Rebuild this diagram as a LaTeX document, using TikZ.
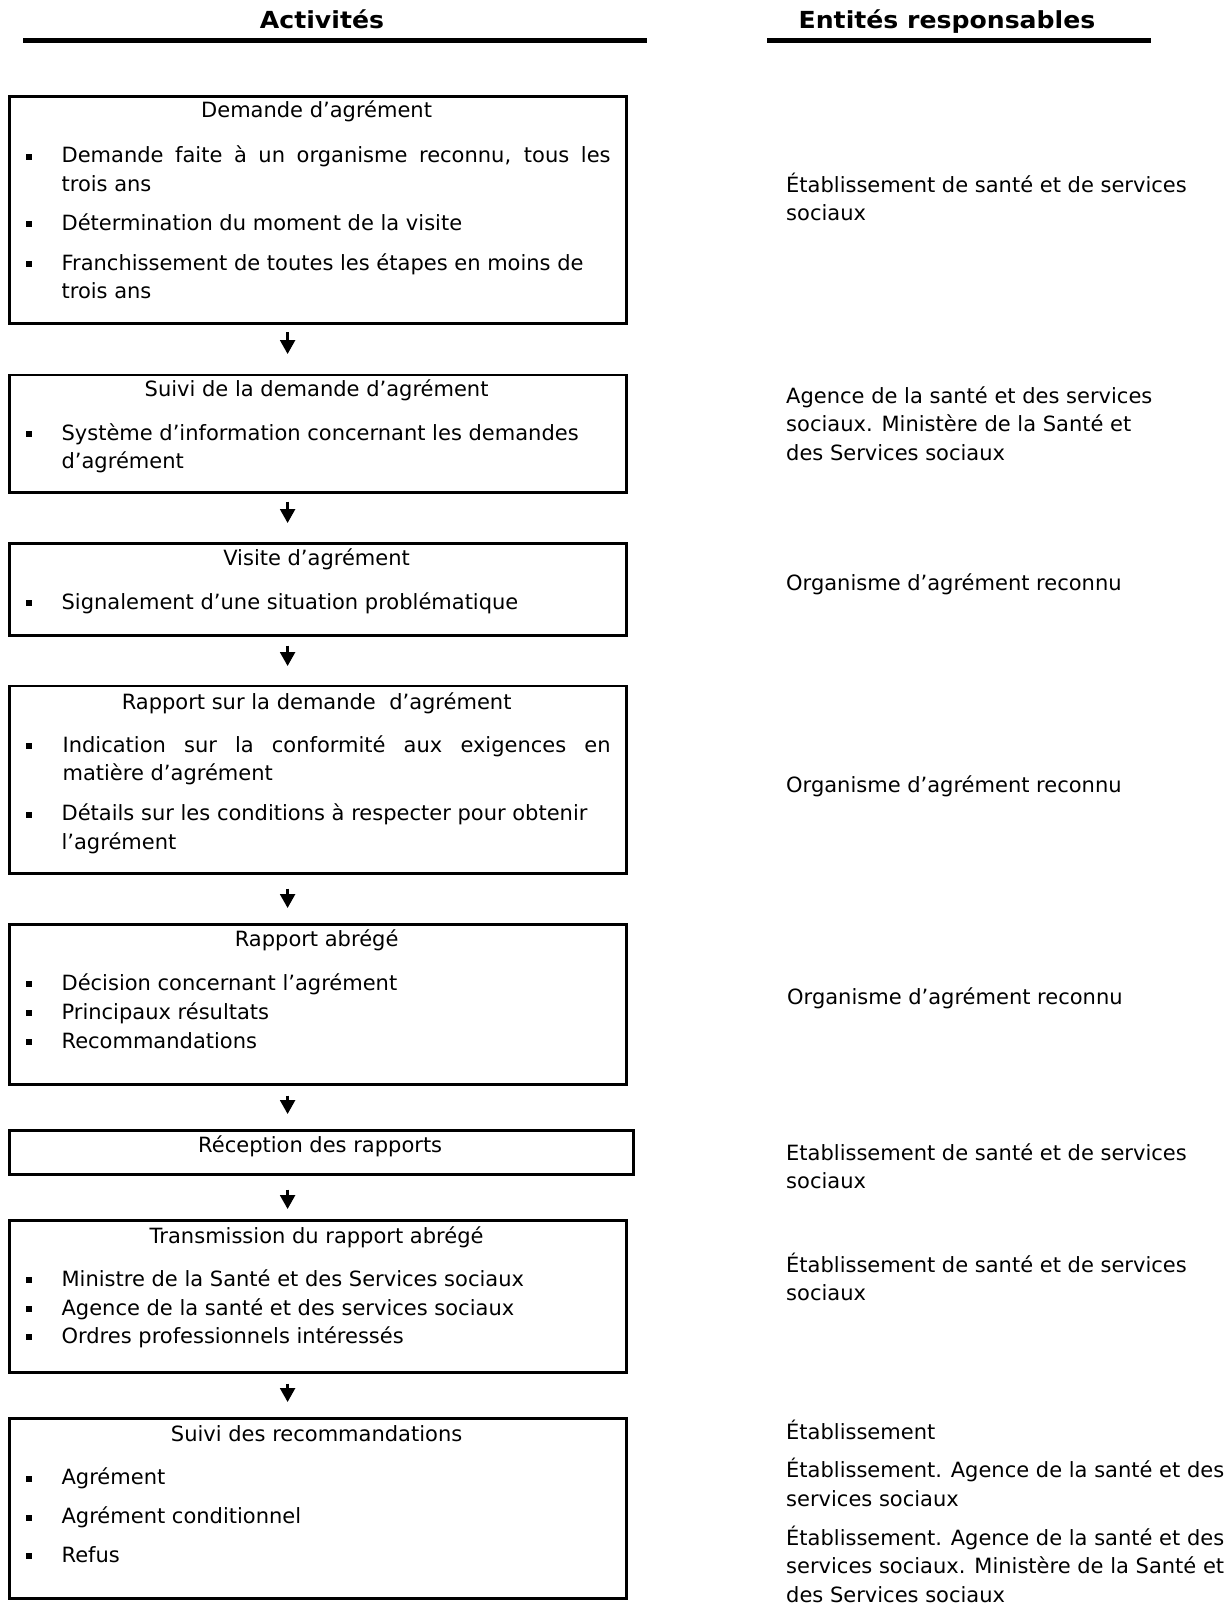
\documentclass[tikz,border=0pt]{standalone}
\usepackage{fontspec}
\setmainfont{DejaVu Sans}
\newfontfamily\hdfont[FakeStretch=1.07]{DejaVu Sans}
\usetikzlibrary{calc,arrows.meta}
\newcommand\bsq[1]{\fill (26,#1-9) rectangle (32,#1-3);}
\begin{document}
\begin{tikzpicture}[x=1pt,y=-1pt,
  box/.style={draw, line width=2.5pt, inner sep=0pt, anchor=north west},
  bodytxt/.style={anchor=base west, inner sep=0pt, align=left, font=\fontsize{21}{28.7}\selectfont},
  ttl/.style={anchor=base, inner sep=0pt, font=\fontsize{21}{28.7}\selectfont},
  hd/.style={anchor=base, inner sep=0pt, font=\hdfont\bfseries\fontsize{23.5}{28}\selectfont},
  arr/.style={line width=2.4pt, -{Triangle[width=15pt,length=14pt]}}]
\useasboundingbox (0,0) rectangle (1228,1604);

% headers
\node[hd] (h1) at (322,28.5) {Activités};
\node[hd] (h2) at (947,28.5) {Entités responsables};
\fill (22.5,37.5) rectangle (647,42.5);
\fill (767,37.5) rectangle (1151,42.5);

% boxes
\node[box, minimum width=616.8pt, minimum height=227pt] (b1) at (8.2,95) {};
\node[box, minimum width=616.8pt, minimum height=117.5pt] (b2) at (8.2,373.5) {};
\node[box, minimum width=616.8pt, minimum height=92pt] (b3) at (8.2,542) {};
\node[box, minimum width=616.8pt, minimum height=187.4pt] (b4) at (8.2,684.6) {};
\node[box, minimum width=616.8pt, minimum height=160pt] (b5) at (8.2,923) {};
\node[box, minimum width=624pt, minimum height=44pt] (b6) at (8.2,1129) {};
\node[box, minimum width=616.8pt, minimum height=152pt] (b7) at (8.2,1219) {};
\node[box, minimum width=616.8pt, minimum height=180pt] (b8) at (8.2,1417) {};

% box 1
\node[ttl] (t1) at (316.6,117.5) {Demande d’agrément};
\bsq{162.5}\node[bodytxt] (t1a) at (61.4,191.2) {\makebox[549pt][s]{Demande faite à un organisme reconnu, tous les}\\trois ans};
\bsq{230}\node[bodytxt] (t1b) at (61.4,230) {Détermination du moment de la visite};
\bsq{270}\node[bodytxt] (t1c) at (61.4,298.7) {Franchissement de toutes les étapes en moins de\\trois ans};

% box 2
\node[ttl] (t2) at (316.6,396) {Suivi de la demande d’agrément};
\bsq{440}\node[bodytxt] (t2a) at (61.4,468.7) {Système d’information concernant les demandes\\d’agrément};

% box 3
\node[ttl] (t3) at (316.6,565) {Visite d’agrément};
\bsq{609}\node[bodytxt] (t3a) at (61.4,609) {Signalement d’une situation problématique};

% box 4
\node[ttl] (t4) at (316.6,709) {Rapport sur la demande\ \ d’agrément};
\bsq{752}\node[bodytxt] (t4a) at (62.4,780.7) {\makebox[548pt][s]{Indication sur la conformité aux exigences en}\\matière d’agrément};
\bsq{820.5}\node[bodytxt] (t4b) at (61.4,849.2) {Détails sur les conditions à respecter pour obtenir\\l’agrément};

% box 5
\node[ttl] (t5) at (316.6,946) {Rapport abrégé};
\bsq{990}\node[bodytxt] (t5a) at (61.4,990) {Décision concernant l’agrément};
\bsq{1019}\node[bodytxt] (t5b) at (61.4,1019) {Principaux résultats};
\bsq{1048}\node[bodytxt] (t5c) at (61.4,1048) {Recommandations};

% box 6
\node[ttl] (t6) at (320.2,1152) {Réception des rapports};

% box 7
\node[ttl] (t7) at (316.6,1243) {Transmission du rapport abrégé};
\bsq{1286}\node[bodytxt] (t7a) at (61.4,1286) {Ministre de la Santé et des Services sociaux};
\bsq{1315}\node[bodytxt] (t7b) at (61.4,1315) {Agence de la santé et des services sociaux};
\bsq{1343}\node[bodytxt] (t7c) at (61.4,1343) {Ordres professionnels intéressés};

% box 8
\node[ttl] (t8) at (316.6,1441) {Suivi des recommandations};
\bsq{1484.5}\node[bodytxt] (t8a) at (61.4,1484.5) {Agrément};
\bsq{1523.5}\node[bodytxt] (t8b) at (61.4,1523.5) {Agrément conditionnel};
\bsq{1562}\node[bodytxt] (t8c) at (61.4,1562) {Refus};

% arrows
\draw[arr] ($(b1.south west)+(279.4,7.5)$) -- ($(b2.north west)+(279.4,-19.5)$);
\draw[arr] ($(b2.south west)+(279.4,8)$) -- ($(b3.north west)+(279.4,-19)$);
\draw[arr] ($(b3.south west)+(279.4,9)$) -- ($(b4.north west)+(279.4,-18.6)$);
\draw[arr] ($(b4.south west)+(279.4,14)$) -- ($(b5.north west)+(279.4,-15)$);
\draw[arr] ($(b5.south west)+(279.4,10)$) -- ($(b6.north west)+(279.4,-15)$);
\draw[arr] ($(b6.south west)+(279.4,14)$) -- ($(b7.north west)+(279.4,-10)$);
\draw[arr] ($(b7.south west)+(279.4,10)$) -- ($(b8.north west)+(279.4,-15)$);

% right column
\node[bodytxt] (r1) at (786,220.7) {Établissement de santé et de services\\sociaux};
\node[bodytxt] (r2) at (786,460.4) {Agence de la santé et des services\\sociaux. Ministère de la Santé et\\des Services sociaux};
\node[bodytxt] (r3) at (786,590) {Organisme d’agrément reconnu};
\node[bodytxt] (r4) at (786,792) {Organisme d’agrément reconnu};
\node[bodytxt] (r5) at (787,1004) {Organisme d’agrément reconnu};
\node[bodytxt] (r6) at (786,1188.7) {Etablissement de santé et de services\\sociaux};
\node[bodytxt] (r7) at (786,1300.7) {Établissement de santé et de services\\sociaux};
\node[bodytxt] (r8a) at (786,1439) {Établissement};
\node[bodytxt] (r8b) at (786,1506.2) {Établissement. Agence de la santé et des\\services sociaux};
\node[bodytxt] (r8c) at (786,1602.4) {Établissement. Agence de la santé et des\\services sociaux. Ministère de la Santé et\\des Services sociaux};
\end{tikzpicture}
\end{document}
